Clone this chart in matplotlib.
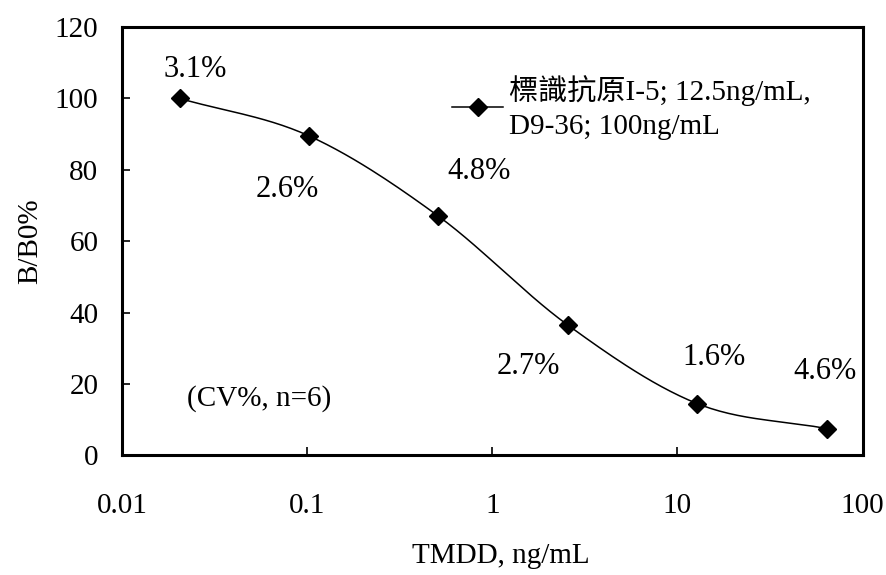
import numpy as np
import matplotlib
matplotlib.use("Agg")
import matplotlib.pyplot as plt

plt.rcParams['font.family'] = ['Liberation Serif', 'Noto Sans CJK TC']

# datos
conc = [0.02048, 0.1024, 0.512, 2.56, 12.8, 64]
bb0 = [100, 89.5, 67, 36.5, 14.5, 7.5]
cv_labels = ["3.1%", "2.6%", "4.8%", "2.7%", "1.6%", "4.6%"]
cv_pos = [(0.025, 108), (0.078, 74.5), (0.85, 79.5), (1.57, 25), (15.8, 27.5), (63, 23.5)]
xticks = [0.01, 0.1, 1, 10, 100]
xtick_labels = ["0.01", "0.1", "1", "10", "100"]
yticks = [0, 20, 40, 60, 80, 100, 120]
serie = "標識抗原I-5; 12.5ng/mL,\nD9-36; 100ng/mL"


# curva suavizada tipo Excel (Catmull-Rom en log x)
def suavizar(x, y, n=30):
    lx = np.log10(x)
    px = np.concatenate([[2 * lx[0] - lx[1]], lx, [2 * lx[-1] - lx[-2]]])
    py = np.concatenate([[2 * y[0] - y[1]], y, [2 * y[-1] - y[-2]]])
    xs, ys = [], []
    for i in range(1, len(px) - 2):
        t = np.linspace(0, 1, n)
        for p, out in ((px, xs), (py, ys)):
            p0, p1, p2, p3 = p[i - 1], p[i], p[i + 1], p[i + 2]
            out.extend(0.5 * (2 * p1 + (-p0 + p2) * t
                              + (2 * p0 - 5 * p1 + 4 * p2 - p3) * t ** 2
                              + (-p0 + 3 * p1 - 3 * p2 + p3) * t ** 3))
    return 10 ** np.array(xs), np.array(ys)


fig = plt.figure(figsize=(8.87, 5.75), dpi=100)
ax = fig.add_axes([0.1375, 0.208, 0.835, 0.745])

sx, sy = suavizar(np.array(conc), np.array(bb0, dtype=float))
ax.plot(sx, sy, color="black", lw=1.1)
ax.plot(conc, bb0, linestyle="none", marker="D", color="black", markersize=9.5)
# linea para la leyenda
ax.plot([], [], color="black", lw=1.1, marker="D", markersize=9.5, label=serie)

for txt, (x, y) in zip(cv_labels, cv_pos):
    ax.text(x, y, txt, fontsize=22, ha="center", va="center")
ax.text(0.055, 16, "(CV%, n=6)", fontsize=21, ha="center", va="center")

ax.set_xscale("log")
ax.set_xlim(0.01, 100)
ax.set_ylim(0, 120)
ax.set_xticks(xticks)
ax.set_xticklabels(xtick_labels)
ax.xaxis.set_minor_locator(matplotlib.ticker.NullLocator())
ax.set_yticks(yticks)
ax.tick_params(direction="in", length=6, width=1.2, labelsize=21)
ax.tick_params(axis="x", pad=27)
ax.tick_params(axis="y", pad=17)
for s in ax.spines.values():
    s.set_linewidth(2.2)

ax.set_xlabel("TMDD, ng/mL", fontsize=21)
ax.xaxis.set_label_coords(0.512, -0.205)
ax.set_ylabel("B/B0%", fontsize=21, labelpad=8)

leg = ax.legend(loc="upper left", bbox_to_anchor=(0.446, 0.888), frameon=False,
                fontsize=21, handlelength=1.75, handletextpad=0.2,
                borderpad=0, borderaxespad=0)
for t in leg.get_texts():
    t.set_linespacing(1.4)

plt.savefig("out.png", dpi=100)
plt.close(fig)
